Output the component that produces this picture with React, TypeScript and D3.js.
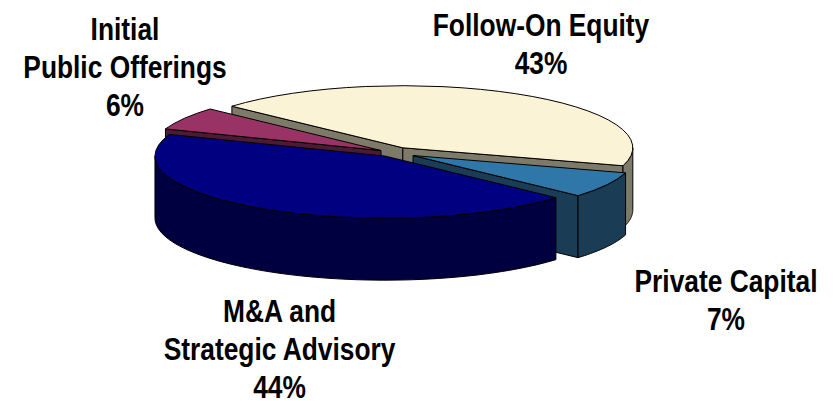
import React from "react";
import * as d3 from "d3";

const categories = ["M&A and Strategic Advisory", "Initial Public Offerings", "Follow-On Equity", "Private Capital"];
const shares = [44, 6, 43, 7];
const topColors = ["#000080", "#993366", "#FBF3D5", "#2E77A8"];
const sideColors = ["#000040", "#4D1A33", "#7E7A6A", "#1A3D55"];
const drawOrder = [2, 1, 3, 0];

const labels = [
  { lines: ["M&A and", "Strategic Advisory", "44%"], x: 279.5, y: 322 },
  { lines: ["Initial", "Public Offerings", "6%"], x: 125, y: 40 },
  { lines: ["Follow-On Equity", "43%"], x: 541, y: 36 },
  { lines: ["Private Capital", "7%"], x: 726, y: 292 },
];

const width = 833;
const height = 401;
const cx = 393;
const cy = 152.5;
const tilt = 0.27;
const depth = 62;
const toRad = Math.PI / 180;
// slices are not quite even in the original
const sliceRadius = [230, 230, 230, 222];
const sliceExplode = [15.5, 14, 20, 23];

const App = () => {
  const pie = d3
    .pie<number>()
    .sort(null)
    .startAngle(132 * toRad)
    .endAngle(492 * toRad);
  const slices = pie(shares);
  const line = d3.line();

  return (
    <svg
      width={width}
      height={height}
      style={{ position: "absolute", left: 0, top: 0, background: "#fff" }}
    >
      {drawOrder.map((i) => {
        const s = slices[i];
        const radius = sliceRadius[i];
        const arc = d3.arc<d3.PieArcDatum<number>>().innerRadius(0).outerRadius(radius);
        const project = (a: number): [number, number] => [radius * Math.sin(a), -radius * tilt * Math.cos(a)];

        const wallPath = (from: number, to: number) => {
          const steps = d3.range(0, 41).map((k) => from + ((to - from) * k) / 40);
          const top = steps.map(project);
          const bottom = steps
            .slice()
            .reverse()
            .map(project)
            .map(([x, y]): [number, number] => [x, y + depth]);
          return line([...top, ...bottom]) + "Z";
        };

        const facePath = (a: number) => {
          const [x, y] = project(a);
          return (
            line([
              [0, 0],
              [x, y],
              [x, y + depth],
              [0, depth],
            ]) + "Z"
          );
        };

        const mid = (s.startAngle + s.endAngle) / 2;
        const dx = sliceExplode[i] * Math.sin(mid);
        const dy = -sliceExplode[i] * tilt * Math.cos(mid);
        // only the parts of the rim that face the viewer
        const walls = [0, 1]
          .map((k): [number, number] => [
            Math.max(s.startAngle, Math.PI / 2 + k * 2 * Math.PI),
            Math.min(s.endAngle, (3 * Math.PI) / 2 + k * 2 * Math.PI),
          ])
          .filter(([a, b]) => b > a);
        const faces = [
          { angle: s.startAngle, normal: s.startAngle - Math.PI / 2 },
          { angle: s.endAngle, normal: s.endAngle + Math.PI / 2 },
        ].filter((f) => Math.cos(f.normal) < 0);
        return (
          <g key={categories[i]} transform={`translate(${cx + dx},${cy + dy})`} stroke="#000" strokeWidth={1}>
            {faces.map((f) => (
              <path key={f.angle} d={facePath(f.angle)} fill={sideColors[i]} strokeLinejoin="round" />
            ))}
            {walls.map(([a, b]) => (
              <path key={a} d={wallPath(a, b)} fill={sideColors[i]} strokeLinejoin="round" />
            ))}
            <path
              d={arc(s) as string}
              transform={`scale(1,${tilt})`}
              fill={topColors[i]}
              vectorEffect="non-scaling-stroke"
            />
          </g>
        );
      })}
      <g
        fontFamily="'Liberation Sans', Arial, sans-serif"
        fontWeight="bold"
        fontSize={31}
        textAnchor="middle"
        fill="#000"
      >
        {labels.map((l) => (
          // the labels are narrow and tall, so squeeze them sideways
          <text key={l.lines[0]} transform={`translate(${l.x},${l.y}) scale(0.85,1)`}>
            {l.lines.map((t, j) => (
              <tspan key={t} x={0} dy={j === 0 ? 0 : 38}>
                {t}
              </tspan>
            ))}
          </text>
        ))}
      </g>
    </svg>
  );
};

export default App;
